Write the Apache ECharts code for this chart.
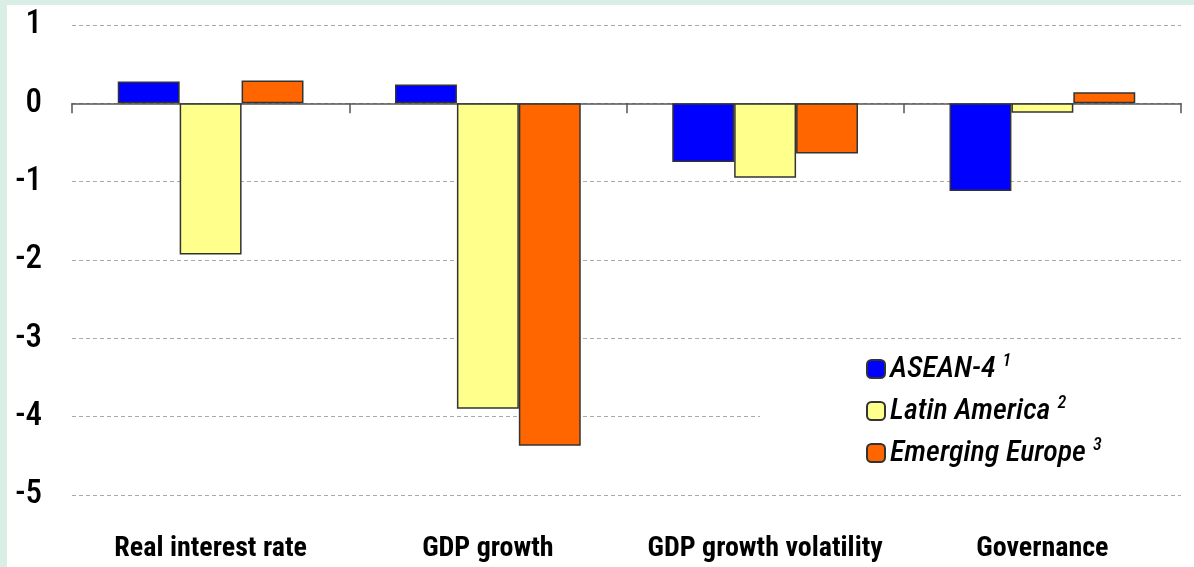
<!DOCTYPE html>
<html><head><meta charset="utf-8">
<script src="https://cdn.jsdelivr.net/npm/echarts@6/dist/echarts.min.js"></script>
<style>
html,body{margin:0;padding:0;background:#d9efe6;}
#wrap{position:absolute;left:7px;top:5px;width:1187px;height:562px;background:#fff;}
#c{position:absolute;left:0;top:0;width:1194px;height:567px;}
</style></head>
<body><div id="wrap"></div><div id="c"></div>
<script>
const categories = ['Real interest rate', 'GDP growth', 'GDP growth volatility', 'Governance'];
const seriesNames = ['ASEAN-4', 'Latin America', 'Emerging Europe'];
const seriesNotes = ['1', '2', '3'];
const asean4 = [0.28, 0.24, -0.75, -1.12];
const latinAmerica = [-1.93, -3.90, -0.95, -0.12];
const emergingEurope = [0.29, -4.37, -0.64, 0.14];
const yTicks = [1, 0, -1, -2, -3, -4, -5];

const colors = ['#0000ff', '#ffff8c', '#ff6600'];
const values = [asean4, latinAmerica, emergingEurope];
const font = '"Liberation Sans Narrow", "Arial Narrow", "Roboto Condensed", Roboto, sans-serif';

const chart = echarts.init(document.getElementById('c'), null, {renderer: 'canvas'});
chart.setOption({
  backgroundColor: 'transparent',
  animation: false,
  grid: {left: 72, right: 13, top: 25, bottom: 72, containLabel: false},
  legend: {
    orient: 'vertical',
    left: 760, top: 344,
    padding: [8, 120, 12, 106],
    backgroundColor: '#ffffff',
    itemWidth: 18, itemHeight: 18, itemGap: 10,
    data: seriesNames,
    formatter: function (name) {
      const i = seriesNames.indexOf(name);
      return '{t|' + name + '}{s|' + seriesNotes[i] + '}';
    },
    textStyle: {
      rich: {
        t: {fontFamily: font, fontStyle: 'italic', fontWeight: 500, fontSize: 30, color: '#000', lineHeight: 32},
        s: {fontFamily: font, fontStyle: 'italic', fontWeight: 500, fontSize: 18, color: '#000', padding: [0, 0, 16, 7]}
      }
    }
  },
  xAxis: [
    {
      type: 'category', data: categories, position: 'bottom',
      axisLine: {onZero: true, lineStyle: {color: '#555', width: 1.5}},
      axisTick: {show: true, length: 10, lineStyle: {color: '#555', width: 1.5}},
      axisLabel: {show: false},
      splitLine: {show: false}
    },
    {
      type: 'category', data: categories, position: 'bottom', gridIndex: 0,
      axisLine: {show: false, onZero: false}, axisTick: {show: false},
      axisLabel: {show: true, interval: 0, hideOverlap: false, margin: 40, fontFamily: font, fontWeight: 'bold', fontSize: 28, color: '#000'}
    }
  ],
  yAxis: {
    type: 'value', min: -5, max: 1, interval: 1,
    axisLine: {show: false}, axisTick: {show: false},
    axisLabel: {fontFamily: font, fontWeight: 500, fontSize: 33, color: '#000', margin: 30},
    splitLine: {show: true, lineStyle: {color: '#aaa', type: [4, 3], width: 1}}
  },
  series: seriesNames.map((n, i) => ({
    name: n, type: 'bar', xAxisIndex: 0, data: values[i],
    barGap: '0%', barCategoryGap: '33%',
    itemStyle: {color: colors[i], borderColor: '#333', borderWidth: 1.5}
  }))
});
</script></body></html>
